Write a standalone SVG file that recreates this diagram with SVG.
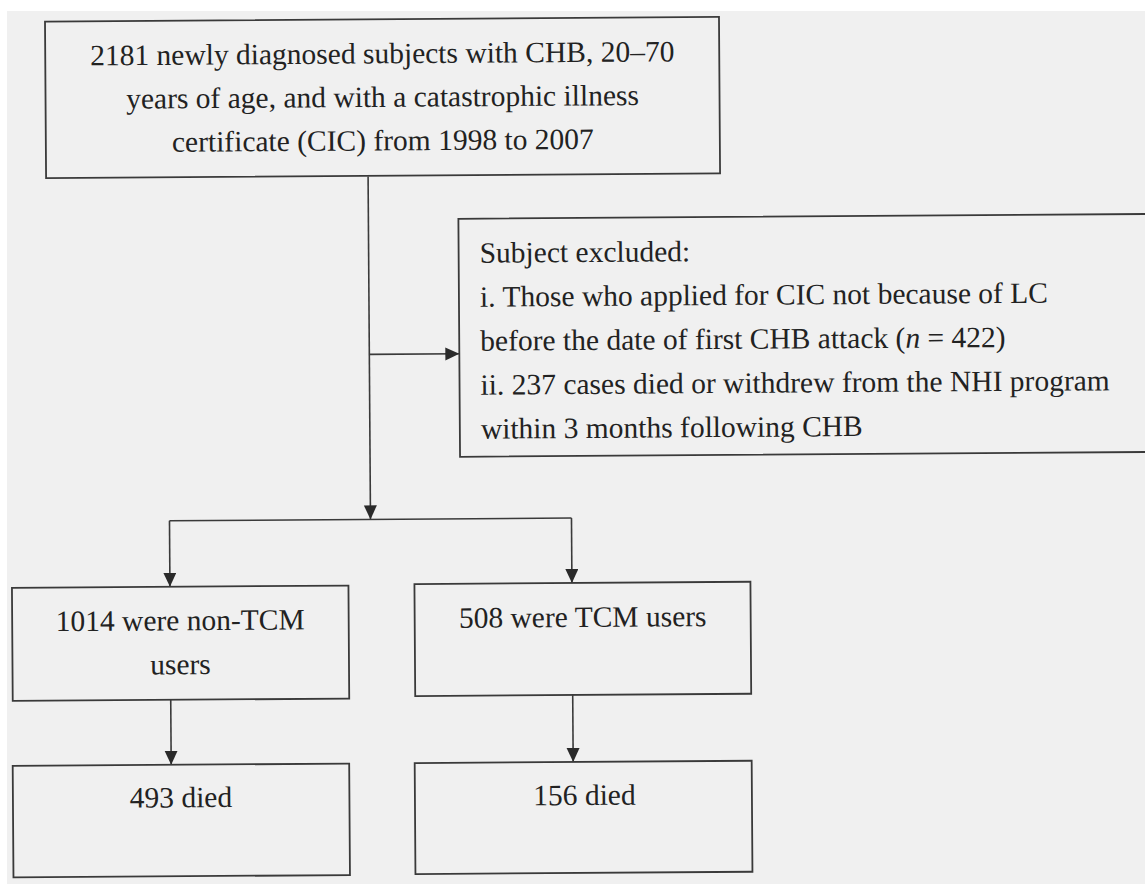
<svg xmlns="http://www.w3.org/2000/svg" width="1145" height="884" viewBox="0 0 1145 884">
  <style>
    .box { fill: none; stroke: #3a3a3a; stroke-width: 1.8; }
    .conn { fill: none; stroke: #3a3a3a; stroke-width: 1.6; }
    .t { font-family: "Liberation Serif", "Times New Roman", serif; font-size: 29.5px; fill: #222222; }
    .c { text-anchor: middle; }
  </style>
  <defs>
    <marker id="arrow" markerUnits="userSpaceOnUse" markerWidth="15" markerHeight="14" refX="14" refY="6.5" orient="auto">
      <path d="M0,0 L14,6.5 L0,13 z" fill="#2a2a2a"/>
    </marker>
  </defs>
  <rect x="0" y="0" width="1145" height="884" fill="#ffffff"/>
  <rect x="7" y="11" width="1138" height="873" fill="#f0f0f0"/>
  <g transform="rotate(-0.4 572 450)">
    <g id="connectors">
      <line class="conn" x1="370" y1="175" x2="370" y2="518" marker-end="url(#arrow)"/>
      <line class="conn" x1="370" y1="353" x2="460" y2="353" marker-end="url(#arrow)"/>
      <line class="conn" x1="169" y1="518" x2="571" y2="518"/>
      <line class="conn" x1="169" y1="518" x2="169" y2="584" marker-end="url(#arrow)"/>
      <line class="conn" x1="571" y1="518" x2="571" y2="583" marker-end="url(#arrow)"/>
      <line class="conn" x1="169" y1="697" x2="169" y2="762" marker-end="url(#arrow)"/>
      <line class="conn" x1="571" y1="695" x2="571" y2="762" marker-end="url(#arrow)"/>
    </g>
    <g id="node-cohort">
      <rect class="box" x="48" y="18" width="674" height="156.5"/>
      <text class="t c" x="385" y="62">2181 newly diagnosed subjects with CHB, 20–70</text>
      <text class="t c" x="385" y="105.5">years of age, and with a catastrophic illness</text>
      <text class="t c" x="385" y="149">certificate (CIC) from 1998 to 2007</text>
    </g>
    <g id="node-excluded">
      <rect class="box" x="460" y="218" width="700" height="238"/>
      <text class="t" x="481" y="262">Subject excluded:</text>
      <text class="t" x="481" y="306">i. Those who applied for CIC not because of LC</text>
      <text class="t" x="481" y="350">before the date of first CHB attack (<tspan font-style="italic">n</tspan> = 422)</text>
      <text class="t" x="481" y="394">ii. 237 cases died or withdrew from the NHI program</text>
      <text class="t" x="481" y="438">within 3 months following CHB</text>
    </g>
    <g id="node-nontcm">
      <rect class="box" x="11" y="584" width="336.5" height="113"/>
      <text class="t c" x="179" y="627.5">1014 were non-TCM</text>
      <text class="t c" x="179" y="671.5">users</text>
    </g>
    <g id="node-tcm">
      <rect class="box" x="413.5" y="583" width="336" height="112"/>
      <text class="t c" x="581.5" y="627">508 were TCM users</text>
    </g>
    <g id="node-nontcm-died">
      <rect class="box" x="10.5" y="762" width="336.5" height="111.5"/>
      <text class="t c" x="178.5" y="804.5">493 died</text>
    </g>
    <g id="node-tcm-died">
      <rect class="box" x="412.5" y="762" width="337" height="111"/>
      <text class="t c" x="582" y="805">156 died</text>
    </g>
  </g>
</svg>
